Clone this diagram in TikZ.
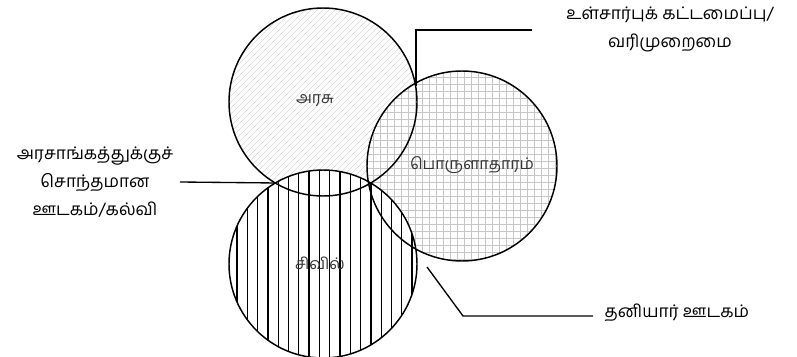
\documentclass[tikz,border=0pt]{standalone}
\usepackage{fontspec}
\newfontfamily\tamil[Script=Tamil]{Hind Madurai}
\begin{document}
\begin{tikzpicture}[x=0.75pt, y=-0.75pt,
    font=\tamil\fontsize{12}{14}\selectfont,
    ring/.style={draw=black, line width=1.1pt},
    hatch/.style={gray!30, line width=0.4pt},
    gridline/.style={gray!45, line width=0.5pt},
    bar/.style={black, line width=1pt},
    lead/.style={black, line width=1pt},
    lbl/.style={inner sep=1pt, text=black!80},
    note/.style={align=center, font=\tamil\fontsize{13}{21}\selectfont},
  ]
  \useasboundingbox (0,0) rectangle (797,357);

  % ---------------- circles
  \coordinate (ga) at (323,102);  % state
  \coordinate (gb) at (462,166);  % economy
  \coordinate (gc) at (323,264);  % civil

  % state: light diagonal hatching
  \begin{scope}
    \clip (ga) circle (94);
    \foreach \d in {-200,-194,...,200}
      \draw[hatch] (323+\d-100,202) -- (323+\d+100,2);
  \end{scope}

  % economy: fine grid
  \begin{scope}
    \fill[white] (gb) circle (95);
    \clip (gb) circle (95);
    \foreach \g in {0,7,...,196} {
      \draw[gridline] (366+\g,70) -- (366+\g,262);
      \draw[gridline] (366,70+\g) -- (558,70+\g);
    }
  \end{scope}

  % civil: vertical bars
  \begin{scope}
    \fill[white] (gc) circle (94);
    \clip (gc) circle (94);
    \foreach \v in {0,...,18}
      \draw[bar] (237+10.3*\v,168) -- (237+10.3*\v,360);
  \end{scope}

  \draw[ring] (ga) circle (94) (gb) circle (95) (gc) circle (94);

  % ---------------- circle labels
  \node[lbl] (state) at (315,101) {அரசு};
  \node[lbl] (econ)  at (472,165) {பொருளாதாரம்};
  \node[lbl] (civil) at (320,263) {சிவில்};

  % ---------------- leader lines
  \coordinate (kab) at (416,86);
  \coordinate (kabend) at (532,30);
  \draw[lead] (kab) |- (kabend);
  \node[note] (tax) at (670,29) {உள்சார்புக் கட்டமைப்பு/\\வரிமுறைமை};

  \coordinate (kac) at (277,183);
  \coordinate (ownedend) at (180,182);
  \draw[lead] (ownedend) -- (kac);
  \node[note] (owned) at (95,182) {அரசாங்கத்துக்குச்\\சொந்தமான\\ஊடகம்/கல்வி};

  \coordinate (kbc) at (427,267);
  \coordinate (bend) at (463,316);
  \coordinate (privend) at (593,316);
  \draw[lead] (kbc) -- (bend) -- (privend);
  \node[note, anchor=west] (priv) at (600,313) {தனியார் ஊடகம்};
\end{tikzpicture}
\end{document}
